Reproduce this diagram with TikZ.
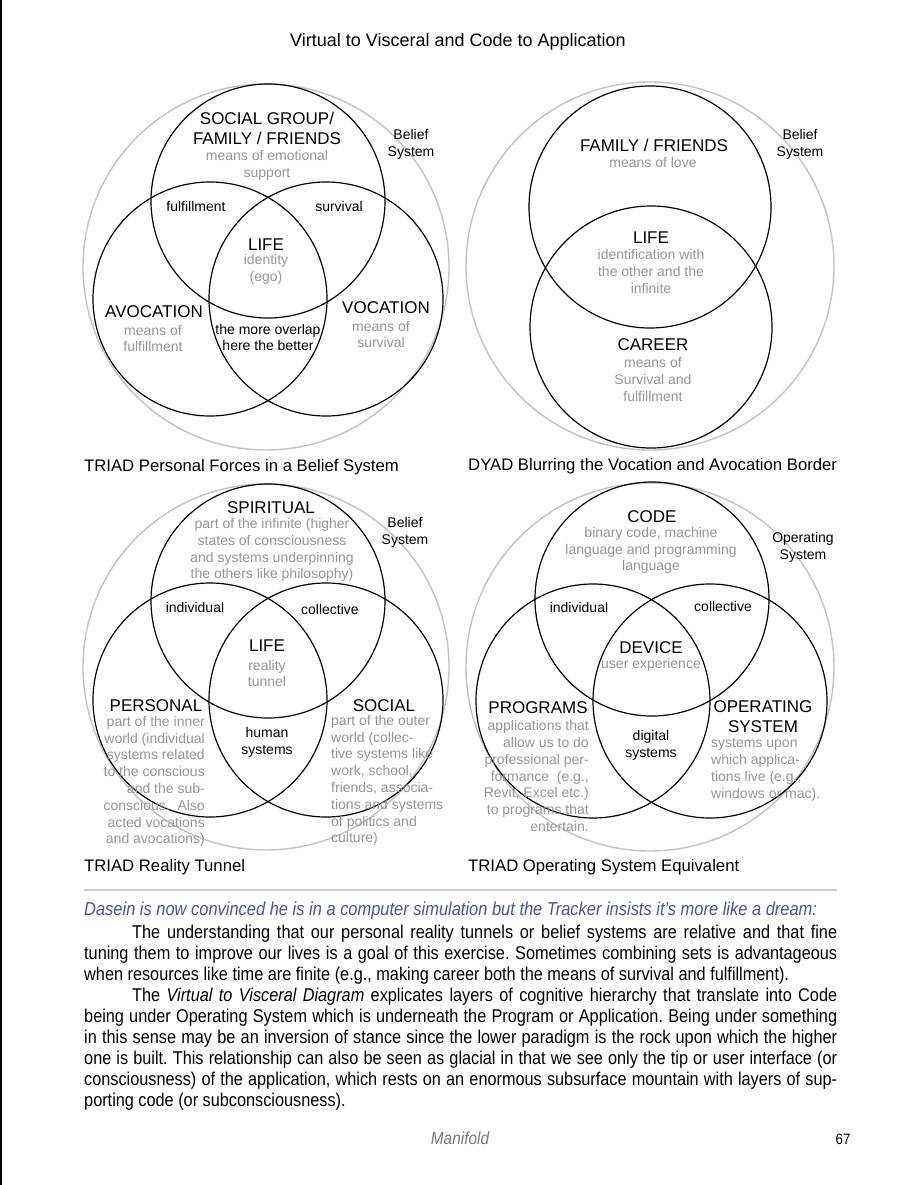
\documentclass[tikz,border=0pt]{standalone}
\usepackage{fontspec}
\setmainfont{Liberation Sans}
\newfontfamily\narrowfont{Liberation Sans}[FakeStretch=0.88]
\definecolor{txtgray}{RGB}{150,150,150}
\definecolor{ringgray}{RGB}{195,195,195}
\definecolor{rulegray}{RGB}{205,205,205}
\definecolor{dblue}{RGB}{72,82,160}
\definecolor{footgray}{RGB}{120,120,120}
\begin{document}
\frenchspacing
\begin{tikzpicture}[x=1pt,y=-1pt,
  big/.style={font=\fontsize{17}{20}\selectfont, inner sep=0pt, align=center},
  sm/.style={font=\fontsize{14}{16.8}\selectfont, inner sep=0pt, align=center},
  gr/.style={sm, text=txtgray},
  ring/.style={draw=ringgray, line width=1.4pt},
  setc/.style={draw=black, line width=1.2pt},
  capt/.style={font=\fontsize{16.7}{20}\selectfont, inner sep=0pt, anchor=west},
  body/.style={font=\narrowfont\fontsize{18.5}{21}\selectfont, inner sep=0pt}
]
\useasboundingbox (0,0) rectangle (915,1185);
\fill[white] (0,0) rectangle (915,1185);
\draw[line width=1.6pt] (0.8,0) -- (0.8,1185);

% title
\node[font=\fontsize{18}{20}\selectfont, inner sep=0pt] (title) at (458,42) {Virtual to Visceral and Code to Application};

% ---------- TL triad ----------
\draw[ring] (266,267) circle[radius=183pt];
\draw[setc] (268,201) circle[radius=117pt];
\draw[setc] (210,299) circle[radius=117pt];
\draw[setc] (326,299) circle[radius=117pt];
\node[big] (social) at (267,128) {SOCIAL GROUP/\\FAMILY / FRIENDS};
\node[gr] (socialg) at (267,165.5) {means of emotional\\support};
\node[sm] (belief1) at (411,144) {Belief\\System};
\node[sm] (ful1) at (196,206) {fulfillment};
\node[sm] (surv1) at (339,206) {survival};
\node[big] (life1) at (266,245) {LIFE};
\node[gr] (life1g) at (266,269.5) {identity\\(ego)};
\node[big] (avoc) at (154,312) {AVOCATION};
\node[gr] (avocg) at (153,338.5) {means of\\fulfillment};
\node[big] (voc) at (386,308) {VOCATION};
\node[gr] (vocg) at (381,334.5) {means of\\survival};
\node[sm] (overlap) at (268,337.5) {the more overlap\\here the better};
\node[capt] (cap1) at (84,467) {TRIAD Personal Forces in a Belief System};

% ---------- TR dyad ----------
\draw[ring] (650,266) circle[radius=184pt];
\draw[setc] (650,207) circle[radius=121pt];
\draw[setc] (651,327) circle[radius=121pt];
\node[big] (fam2) at (654,145) {FAMILY / FRIENDS};
\node[gr] (fam2g) at (653,162) {means of love};
\node[sm] (belief2) at (800,144) {Belief\\System};
\node[big] (life2) at (651,238) {LIFE};
\node[gr] (life2g) at (651,271.5) {identification with\\the other and the\\infinite};
\node[big] (career) at (653,345) {CAREER};
\node[gr] (careerg) at (653,379.5) {means of\\Survival and\\fulfillment};
\node[capt] (cap2) at (468,466) {DYAD Blurring the Vocation and Avocation Border};

% ---------- BL triad ----------
\draw[ring] (266,667) circle[radius=183pt];
\draw[setc] (268,601) circle[radius=117pt];
\draw[setc] (210,700) circle[radius=117pt];
\draw[setc] (326,700) circle[radius=117pt];
\node[big] (spir) at (271,508) {SPIRITUAL};
\node[gr] (spirg) at (272,550) {part of the infinite (higher\\states of consciousness\\and systems underpinning\\the others like philosophy)};
\node[sm] (belief3) at (405,532.5) {Belief\\System};
\node[sm] (indiv3) at (195,607) {individual};
\node[sm] (coll3) at (330,609) {collective};
\node[big] (life3) at (267,646) {LIFE};
\node[gr] (life3g) at (267,673.5) {reality\\tunnel};
\node[big] (pers) at (156,706) {PERSONAL};
\node[gr, align=right, anchor=east] (persg) at (205,781.5) {part of the inner\\world (individual\\systems related\\to the conscious\\and the sub-\\conscious.~ Also\\acted vocations\\and avocations)};
\node[big] (soc) at (384,706) {SOCIAL};
\node[gr, align=left, anchor=west] (socg) at (331,780.5) {part of the outer\\world (collec-\\tive systems like\\work, school,\\friends, associa-\\tions and systems\\of politics and\\culture)};
\node[sm] (human) at (267,742.5) {human\\systems};
\node[capt] (cap3) at (84,867) {TRIAD Reality Tunnel};

% ---------- BR triad ----------
\draw[ring] (650,667) circle[radius=184pt];
\draw[setc] (652,599) circle[radius=117pt];
\draw[setc] (593,701) circle[radius=117pt];
\draw[setc] (710,701) circle[radius=117pt];
\node[big] (code) at (652,517) {CODE};
\node[gr] (codeg) at (651,550.5) {binary code, machine\\language and programming\\language};
\node[sm] (opsys) at (803,547.5) {Operating\\System};
\node[sm] (indiv4) at (579,607) {individual};
\node[sm] (coll4) at (723,606) {collective};
\node[big] (device) at (651,648) {DEVICE};
\node[gr] (deviceg) at (651,665) {user experience};
\node[big] (prog) at (538,708) {PROGRAMS};
\node[gr, align=right, anchor=east] (progg) at (589,776) {applications that\\allow us to do\\professional per-\\formance~ (e.g.,\\Revit, Excel etc.)\\to programs that\\entertain.};
\node[big] (os) at (763,717) {OPERATING\\SYSTEM};
\node[gr, align=left, anchor=west] (osg) at (711,770) {systems upon\\which applica-\\tions live (e.g.,\\windows or mac).};
\node[sm] (digital) at (651,745) {digital\\systems};
\node[capt] (cap4) at (468,867) {TRIAD Operating System Equivalent};

% ---------- text ----------
\draw[draw=rulegray, line width=1.2pt] (84,890) -- (837,890);
\node[body, font=\narrowfont\itshape\fontsize{18.7}{21}\selectfont, text=dblue, anchor=base west] (dasein) at (84,915) {Dasein is now convinced he is in a computer simulation but the Tracker insists it’s more like a dream:};
\node[body, anchor=north west, text width=753pt, align=justify] (para) at (84,925) {%
\hyphenpenalty=10000\exhyphenpenalty=10000\parskip=0pt\frenchspacing
\hspace*{48pt}The understanding that our personal reality tunnels or belief systems are relative and that fine\linebreak
tuning them to improve our lives is a goal of this exercise. Sometimes combining sets is advantageous\linebreak
when resources like time are finite (e.g., making career both the means of survival and fulfillment).\par
\hspace*{48pt}The \textit{Virtual to Visceral Diagram} explicates layers of cognitive hierarchy that translate into Code\linebreak
being under Operating System which is underneath the Program or Application. Being under something\linebreak
in this sense may be an inversion of stance since the lower paradigm is the rock upon which the higher\linebreak
one is built. This relationship can also be seen as glacial in that we see only the tip or user interface (or\linebreak
consciousness) of the application, which rests on an enormous subsurface mountain with layers of sup-\linebreak
porting code (or subconsciousness).\par};

% footer
\node[font=\narrowfont\itshape\fontsize{17.5}{20}\selectfont, text=footgray, inner sep=0pt, anchor=base] (foot) at (460,1144) {Manifold};
\node[font=\narrowfont\fontsize{15}{18}\selectfont, inner sep=0pt, anchor=base] (pagenum) at (843,1144) {67};
\end{tikzpicture}
\end{document}
